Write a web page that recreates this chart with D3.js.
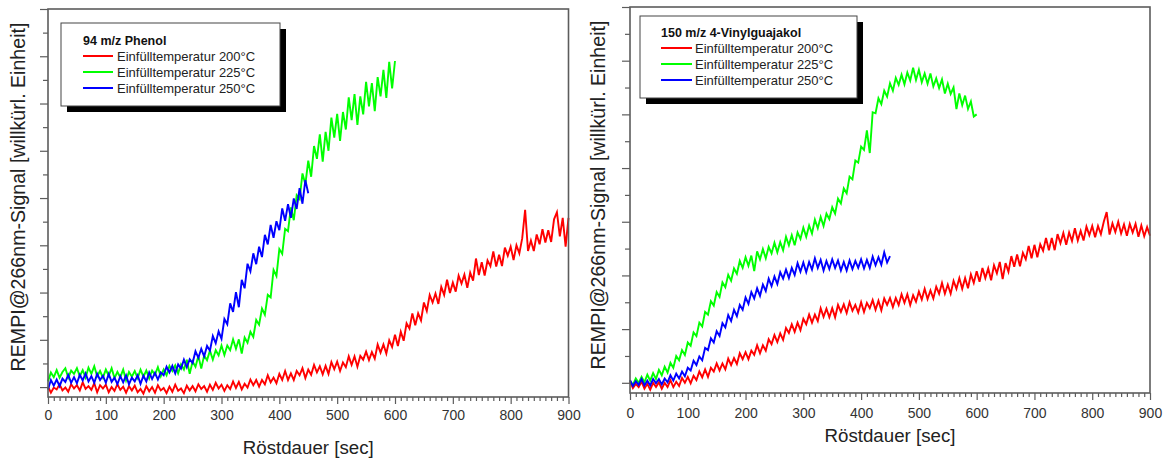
<!DOCTYPE html>
<html><head><meta charset="utf-8">
<script src="https://cdn.jsdelivr.net/npm/d3@7"></script>
<style>
body{margin:0;background:#fff;}
svg{display:block;font-family:"Liberation Sans",Arial,sans-serif;}
</style>
</head><body>
<svg id="chart" width="1168" height="459"></svg>
<script>
// ---------- data ----------
const legendLabels = ["Einfülltemperatur 200°C", "Einfülltemperatur 225°C", "Einfülltemperatur 250°C"];
const seriesColors = ["#ff0000", "#00ff00", "#0000ff"];
const panelTitles = ["94 m/z Phenol", "150 m/z 4-Vinylguajakol"];
const xTickValues = [0, 100, 200, 300, 400, 500, 600, 700, 800, 900];
const xAxisTitle = "Röstdauer [sec]";
const yAxisTitle = "REMPI@266nm-Signal [willkürl. Einheit]";
const sampleStep = 5; // seconds between samples

// Phenol, 200 °C (0..900 s)
const phenol200 = [
 0.01,-0.12,-0.01,-0.05,0.06,-0.07,-0.01,-0.10,0.06,-0.03,
 0.04,-0.07,0.10,-0.04,0.02,-0.06,0.08,-0.11,0.04,-0.03,
 0.05,-0.11,0.00,-0.08,0.06,-0.06,0.01,-0.12,0.02,-0.07,
 0.03,-0.11,-0.04,-0.14,0.02,-0.09,0.00,-0.12,0.04,-0.07,
 -0.02,-0.13,0.01,-0.10,0.05,-0.08,-0.03,-0.13,0.03,-0.07,
 0.02,-0.09,0.06,-0.04,0.02,-0.10,0.05,-0.06,0.09,-0.03,
 0.05,-0.08,0.04,-0.04,0.12,-0.02,0.11,-0.05,0.07,-0.01,
 0.16,0.04,0.15,0.01,0.15,0.06,0.25,0.10,0.20,0.08,
 0.28,0.15,0.34,0.15,0.29,0.15,0.34,0.25,0.40,0.19,
 0.37,0.26,0.47,0.31,0.44,0.27,0.45,0.28,0.53,0.38,
 0.54,0.34,0.52,0.42,0.65,0.47,0.65,0.43,0.66,0.58,
 0.75,0.57,0.74,0.60,0.90,0.73,0.90,0.71,0.99,0.85,
 1.11,0.87,1.17,0.98,1.35,1.24,1.56,1.31,1.56,1.41,
 1.79,1.61,1.95,1.79,1.98,1.76,2.12,1.95,2.27,1.99,
 2.21,2.02,2.36,2.19,2.38,2.10,2.42,2.25,2.72,2.37,
 2.64,2.36,2.68,2.56,2.87,2.55,2.80,2.56,2.95,2.78,
 2.97,2.69,3.00,2.83,3.15,3.75,2.88,3.10,2.88,3.23,
 3.02,3.34,3.06,3.32,3.07,3.55,3.70,3.19,3.58,2.97,
 3.58
];
// Phenol, 225 °C (0..600 s)
const phenol225 = [
 0.12,0.31,0.21,0.36,0.20,0.32,0.40,0.20,0.35,0.28,
 0.40,0.23,0.36,0.20,0.41,0.28,0.44,0.23,0.34,0.20,
 0.37,0.24,0.40,0.19,0.32,0.21,0.37,0.14,0.32,0.22,
 0.34,0.19,0.37,0.22,0.35,0.18,0.35,0.26,0.42,0.23,
 0.37,0.25,0.45,0.34,0.46,0.29,0.48,0.37,0.58,0.28,
 0.54,0.43,0.66,0.39,0.67,0.57,0.77,0.58,0.78,0.67,
 0.88,0.68,0.88,0.78,1.01,0.81,1.01,0.71,1.05,0.94,
 1.17,1.06,1.42,1.32,1.66,1.53,1.95,1.90,2.48,2.35,
 2.92,2.82,3.35,3.30,3.80,3.53,4.06,3.98,4.52,4.29,
 4.79,4.45,5.10,4.83,5.35,4.77,5.40,5.00,5.70,5.28,
 5.78,5.21,5.82,5.45,6.13,5.65,6.20,5.55,6.15,5.77,
 6.46,5.94,6.43,5.84,6.56,6.15,6.71,6.12,6.88,6.32,
 6.90
];
// Phenol, 250 °C (0..450 s)
const phenol250 = [
 -0.05,0.15,0.03,0.16,0.02,0.18,0.11,0.26,0.09,0.21,
 0.08,0.26,0.14,0.29,0.12,0.23,0.09,0.28,0.15,0.24,
 0.09,0.28,0.11,0.20,0.06,0.23,0.10,0.25,0.06,0.20,
 0.12,0.25,0.07,0.24,0.12,0.31,0.17,0.30,0.16,0.31,
 0.25,0.43,0.31,0.45,0.29,0.48,0.39,0.58,0.42,0.59,
 0.51,0.76,0.62,0.81,0.65,0.87,0.77,1.08,0.93,1.18,
 1.02,1.44,1.33,1.77,1.59,2.01,1.69,2.27,2.09,2.61,
 2.45,2.83,2.60,2.97,2.75,3.22,3.02,3.43,3.16,3.51,
 3.32,3.78,3.52,3.87,3.58,3.99,3.77,4.21,3.88,4.38,
 4.10
];
// 4-Vinylguajakol, 200 °C (0..900 s)
const vinyl200 = [
 0.02,-0.10,-0.02,-0.08,0.02,-0.11,-0.02,-0.13,0.00,-0.08,
 0.01,-0.11,0.00,-0.08,0.05,-0.08,0.02,-0.06,0.09,0.00,
 0.11,-0.01,0.13,0.05,0.21,0.10,0.25,0.11,0.28,0.21,
 0.36,0.23,0.36,0.25,0.45,0.33,0.46,0.35,0.55,0.44,
 0.57,0.44,0.60,0.52,0.70,0.55,0.70,0.60,0.81,0.72,
 0.89,0.76,0.92,0.80,1.02,0.93,1.09,0.95,1.12,0.98,
 1.19,1.09,1.27,1.12,1.27,1.15,1.39,1.23,1.38,1.22,
 1.39,1.22,1.45,1.32,1.46,1.30,1.50,1.34,1.45,1.31,
 1.50,1.32,1.49,1.39,1.54,1.36,1.53,1.35,1.57,1.45,
 1.58,1.41,1.58,1.45,1.65,1.49,1.65,1.45,1.63,1.51,
 1.70,1.55,1.75,1.56,1.72,1.57,1.79,1.66,1.86,1.66,
 1.83,1.66,1.90,1.75,1.95,1.75,1.95,1.76,2.02,1.86,
 2.08,1.88,2.14,1.95,2.13,1.91,2.19,2.04,2.25,1.93,
 2.23,2.07,2.36,2.16,2.39,2.17,2.42,2.30,2.55,2.32,
 2.57,2.34,2.58,2.46,2.70,2.47,2.70,2.47,2.77,2.60,
 2.79,2.57,2.80,2.64,2.88,2.65,2.83,2.65,2.91,2.75,
 2.92,2.71,2.92,2.77,3.00,3.18,2.76,2.97,2.81,3.00,
 2.78,2.95,2.74,2.96,2.80,2.96,2.72,2.93,2.73,2.90,
 2.74
];
// 4-Vinylguajakol, 225 °C (0..600 s)
const vinyl225 = [
 0.04,-0.04,0.08,0.00,0.11,0.01,0.15,0.04,0.18,0.07,
 0.24,0.14,0.30,0.19,0.37,0.28,0.50,0.42,0.61,0.52,
 0.75,0.69,0.94,0.87,1.12,1.05,1.32,1.27,1.52,1.44,
 1.69,1.60,1.87,1.78,2.01,1.90,2.13,2.03,2.27,2.14,
 2.34,2.18,2.37,2.08,2.45,2.30,2.49,2.32,2.53,2.41,
 2.61,2.43,2.62,2.47,2.72,2.56,2.75,2.56,2.80,2.68,
 2.89,2.72,2.93,2.78,3.04,2.88,3.09,2.92,3.15,3.05,
 3.27,3.15,3.43,3.34,3.62,3.53,3.84,3.79,4.14,4.10,
 4.40,4.34,4.70,4.28,5.04,5.02,5.30,5.19,5.44,5.33,
 5.58,5.44,5.68,5.55,5.74,5.56,5.78,5.63,5.87,5.64,
 5.83,5.60,5.76,5.57,5.76,5.52,5.67,5.49,5.65,5.39,
 5.57,5.38,5.50,5.10,5.39,5.17,5.35,5.10,5.24,4.96,
 5.00
];
// 4-Vinylguajakol, 250 °C (0..450 s)
const vinyl250 = [
 0.05,-0.06,0.03,-0.04,0.07,-0.05,0.04,-0.05,0.07,-0.01,
 0.07,-0.03,0.08,0.01,0.14,0.04,0.17,0.08,0.21,0.12,
 0.28,0.23,0.41,0.33,0.49,0.42,0.65,0.61,0.83,0.75,
 0.96,0.87,1.11,1.03,1.26,1.15,1.36,1.24,1.45,1.36,
 1.59,1.47,1.69,1.57,1.76,1.62,1.83,1.71,1.94,1.80,
 1.98,1.84,2.06,1.94,2.11,1.95,2.14,2.01,2.23,2.07,
 2.24,2.06,2.25,2.11,2.32,2.14,2.29,2.09,2.27,2.12,
 2.30,2.14,2.28,2.09,2.25,2.09,2.28,2.12,2.27,2.14,
 2.30,2.13,2.29,2.14,2.35,2.19,2.34,2.20,2.43,2.24,
 2.36
];

// ---------- layout ----------
const panels = [
  { title: panelTitles[0], series: [phenol200, phenol225, phenol250],
    yMin: -0.21, yMax: 8,
    left: 48, right: 568.5, top: 9, bottom: 397, tickPad: 6,
    xTitleY: 447, yTitleX: 18, yTitleY: 197,
    legend: { x: 61, y: 23, w: 219, h: 83, titleY: 18, rowY: [33, 49, 65], lx0: 22, lx1: 52, tx: 56 } },
  { title: panelTitles[1], series: [vinyl200, vinyl225, vinyl250],
    yMin: -0.19, yMax: 7,
    left: 630, right: 1150, top: 7, bottom: 393, tickPad: 8,
    xTitleY: 435, yTitleX: 598, yTitleY: 195,
    legend: { x: 640, y: 16, w: 217, h: 82, titleY: 17, rowY: [32, 48, 64], lx0: 21, lx1: 52, tx: 55 } }
];

const svg = d3.select("#chart");
const frameColor = "#5c5c5c";

panels.forEach(p => {
  const x = d3.scaleLinear().domain([0, 900]).range([p.left, p.right]);
  const y = d3.scaleLinear().domain([p.yMin, p.yMax]).range([p.bottom, p.top]);
  const g = svg.append("g");

  // data lines
  const line = d3.line().x((d, i) => x(i * sampleStep)).y(d => y(d));
  p.series.forEach((s, k) => {
    g.append("path").datum(s)
      .attr("fill", "none").attr("stroke", seriesColors[k])
      .attr("stroke-width", 1.9).attr("stroke-linejoin", "miter")
      .attr("d", line);
  });

  // x axis minor + major
  const minorX = d3.range(0, 901, 10).filter(v => v % 100 !== 0);
  const gxm = g.append("g").attr("transform", `translate(0,${p.bottom})`)
    .call(d3.axisBottom(x).tickValues(minorX).tickSize(4).tickFormat(""));
  const gx = g.append("g").attr("transform", `translate(0,${p.bottom})`)
    .call(d3.axisBottom(x).tickValues(xTickValues).tickSize(7).tickPadding(p.tickPad).tickFormat(d3.format("d")));
  [gxm, gx].forEach(a => {
    a.select(".domain").remove();
    a.selectAll("line").attr("stroke", frameColor).attr("stroke-width", 1.2);
  });
  gx.selectAll("text").attr("font-size", 14).attr("fill", "#333")
    .attr("font-family", '"Liberation Sans",Arial,sans-serif');

  // y axis minor + major (no labels)
  const majorY = d3.range(0, p.yMax + 0.01, 1);
  const minorY = d3.range(0.5, p.yMax, 1);
  const gym = g.append("g").attr("transform", `translate(${p.left},0)`)
    .call(d3.axisLeft(y).tickValues(minorY).tickSize(5).tickFormat(""));
  const gy = g.append("g").attr("transform", `translate(${p.left},0)`)
    .call(d3.axisLeft(y).tickValues(majorY).tickSize(8).tickFormat(""));
  [gym, gy].forEach(a => {
    a.select(".domain").remove();
    a.selectAll("line").attr("stroke", frameColor).attr("stroke-width", 1.2);
  });

  // frame
  g.append("rect").attr("x", p.left).attr("y", p.top)
    .attr("width", p.right - p.left).attr("height", p.bottom - p.top)
    .attr("fill", "none").attr("stroke", frameColor).attr("stroke-width", 1.6);

  // axis titles
  g.append("text").attr("x", (p.left + p.right) / 2).attr("y", p.xTitleY)
    .attr("text-anchor", "middle").attr("dominant-baseline", "central")
    .attr("font-size", 18.7).attr("fill", "#222").text(xAxisTitle);
  g.append("text").attr("transform", `translate(${p.yTitleX},${p.yTitleY}) rotate(-90)`)
    .attr("text-anchor", "middle").attr("dominant-baseline", "central")
    .attr("font-size", 19.6).attr("fill", "#222").text(yAxisTitle);

  // legend
  const L = p.legend;
  const lg = g.append("g").attr("transform", `translate(${L.x},${L.y})`);
  lg.append("rect").attr("x", 6).attr("y", 6).attr("width", L.w).attr("height", L.h).attr("fill", "#000");
  lg.append("rect").attr("x", 0).attr("y", 0).attr("width", L.w).attr("height", L.h)
    .attr("fill", "#fff").attr("stroke", "#444").attr("stroke-width", 1);
  lg.append("text").attr("x", L.lx0).attr("y", L.titleY).attr("dominant-baseline", "central")
    .attr("font-size", 12.5).attr("font-weight", "bold").attr("fill", "#111").text(p.title);
  legendLabels.forEach((lab, k) => {
    lg.append("line").attr("x1", L.lx0).attr("x2", L.lx1).attr("y1", L.rowY[k]).attr("y2", L.rowY[k])
      .attr("stroke", seriesColors[k]).attr("stroke-width", 2);
    lg.append("text").attr("x", L.tx).attr("y", L.rowY[k]).attr("dominant-baseline", "central")
      .attr("font-size", 13).attr("fill", "#222").text(lab);
  });
});
</script>
</body></html>
